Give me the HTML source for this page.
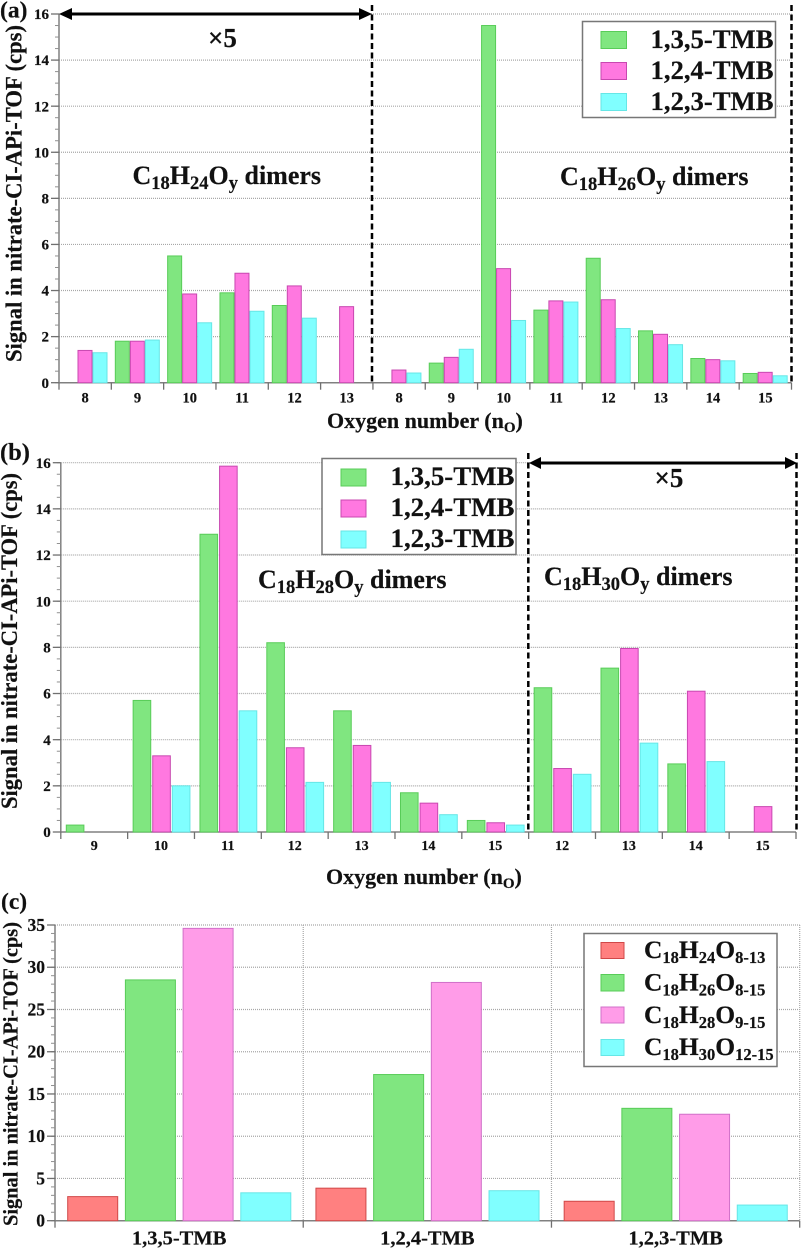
<!DOCTYPE html>
<html lang="en">
<head>
<meta charset="utf-8">
<title>Dimer signal charts</title>
<style>
html,body{margin:0;padding:0;background:#fff;}
svg{display:block;filter:blur(0.35px);}
text{font-family:"Liberation Serif",serif;font-weight:bold;fill:#111;stroke:#111;stroke-width:0.2;}
</style>
</head>
<body>
<svg id="fig" xmlns="http://www.w3.org/2000/svg" width="808" height="1255" viewBox="0 0 808 1255">
  <g id="marks"></g>

  <text x="0" y="17.5" font-size="23.5">(a)</text>
  <text x="0" y="460" font-size="24.5">(b)</text>
  <text x="1" y="909" font-size="23.5">(c)</text>

  <text transform="translate(21.7,362) rotate(-90)" font-size="23.5" textLength="337" lengthAdjust="spacingAndGlyphs">Signal in nitrate-CI-APi-TOF (cps)</text>
  <text transform="translate(17,809) rotate(-90)" font-size="23.5" textLength="336" lengthAdjust="spacingAndGlyphs">Signal in nitrate-CI-APi-TOF (cps)</text>
  <text transform="translate(17.3,1226) rotate(-90)" font-size="21" textLength="304" lengthAdjust="spacingAndGlyphs">Signal in nitrate-CI-APi-TOF (cps)</text>

  <text x="327" y="428" font-size="22">Oxygen number (n<tspan dy="4" font-size="15">O</tspan><tspan dy="-4">)</tspan></text>
  <text x="326" y="884" font-size="22">Oxygen number (n<tspan dy="4" font-size="15">O</tspan><tspan dy="-4">)</tspan></text>

  <text x="132.5" y="184" font-size="26">C<tspan dy="5" font-size="18.5">18</tspan><tspan dy="-5">H</tspan><tspan dy="5" font-size="18.5">24</tspan><tspan dy="-5">O</tspan><tspan dy="5" font-size="18.5">y</tspan><tspan dy="-5"> dimers</tspan></text>
  <text x="560" y="185" font-size="26">C<tspan dy="5" font-size="18.5">18</tspan><tspan dy="-5">H</tspan><tspan dy="5" font-size="18.5">26</tspan><tspan dy="-5">O</tspan><tspan dy="5" font-size="18.5">y</tspan><tspan dy="-5"> dimers</tspan></text>
  <text x="258" y="588" font-size="26">C<tspan dy="5" font-size="18.5">18</tspan><tspan dy="-5">H</tspan><tspan dy="5" font-size="18.5">28</tspan><tspan dy="-5">O</tspan><tspan dy="5" font-size="18.5">y</tspan><tspan dy="-5"> dimers</tspan></text>
  <text x="544" y="585" font-size="26">C<tspan dy="5" font-size="18.5">18</tspan><tspan dy="-5">H</tspan><tspan dy="5" font-size="18.5">30</tspan><tspan dy="-5">O</tspan><tspan dy="5" font-size="18.5">y</tspan><tspan dy="-5"> dimers</tspan></text>

  <text x="222.5" y="47" font-size="27" text-anchor="middle">×5</text>
  <text x="669" y="487" font-size="27" text-anchor="middle">×5</text>

  <g>
    <line x1="372" y1="5" x2="372" y2="383" stroke="#000" stroke-width="2.5" stroke-dasharray="6 3.5"/>
    <line x1="791.5" y1="5" x2="791.5" y2="383" stroke="#000" stroke-width="2.5" stroke-dasharray="6 3.5"/>
    <line x1="68" y1="14" x2="362" y2="14" stroke="#000" stroke-width="3"/>
    <polygon points="59,14 72,8 72,20" fill="#000"/>
    <polygon points="372,14 359,8 359,20" fill="#000"/>
  </g>
  <g>
    <line x1="528.3" y1="453" x2="528.3" y2="832" stroke="#000" stroke-width="2.5" stroke-dasharray="6 3.5"/>
    <line x1="796.5" y1="453" x2="796.5" y2="832" stroke="#000" stroke-width="2.5" stroke-dasharray="6 3.5"/>
    <line x1="538" y1="463" x2="788" y2="463" stroke="#000" stroke-width="3"/>
    <polygon points="529,463 541,457 541,469" fill="#000"/>
    <polygon points="797,463 785,457 785,469" fill="#000"/>
  </g>

  <g>
    <rect x="582.5" y="21.5" width="193" height="96" fill="#fff" stroke="#777" stroke-width="1.5"/>
    <rect x="601" y="31.5" width="25.5" height="17" fill="#80e680" stroke="#58cc58"/>
    <rect x="601" y="62.5" width="25.5" height="17" fill="#ff78e0" stroke="#c848b0"/>
    <rect x="601" y="93.5" width="25.5" height="17" fill="#80ffff" stroke="#66e6e6"/>
    <text x="650.5" y="48" font-size="26" textLength="123" lengthAdjust="spacingAndGlyphs">1,3,5-TMB</text>
    <text x="650.5" y="79" font-size="26" textLength="123" lengthAdjust="spacingAndGlyphs">1,2,4-TMB</text>
    <text x="650.5" y="110" font-size="26" textLength="123" lengthAdjust="spacingAndGlyphs">1,2,3-TMB</text>
  </g>

  <g>
    <rect x="322" y="458.5" width="194" height="96" fill="#fff" stroke="#777" stroke-width="1.5"/>
    <rect x="341" y="469" width="25" height="17" fill="#80e680" stroke="#58cc58"/>
    <rect x="341" y="500" width="25" height="17" fill="#ff78e0" stroke="#c848b0"/>
    <rect x="341" y="531" width="25" height="17" fill="#80ffff" stroke="#66e6e6"/>
    <text x="390.5" y="485" font-size="26" textLength="124" lengthAdjust="spacingAndGlyphs">1,3,5-TMB</text>
    <text x="390.5" y="516" font-size="26" textLength="124" lengthAdjust="spacingAndGlyphs">1,2,4-TMB</text>
    <text x="390.5" y="547" font-size="26" textLength="124" lengthAdjust="spacingAndGlyphs">1,2,3-TMB</text>
  </g>

  <g>
    <rect x="584" y="933.5" width="193" height="133" fill="#fff" stroke="#777" stroke-width="1.5"/>
    <rect x="601" y="942.5" width="23" height="16" fill="#ff8080" stroke="#d04848"/>
    <rect x="601" y="974.5" width="23" height="16.5" fill="#80e680" stroke="#58cc58"/>
    <rect x="601" y="1007" width="23" height="16" fill="#ff9ce8" stroke="#d070c8"/>
    <rect x="601" y="1039.5" width="23" height="16" fill="#80ffff" stroke="#66e6e6"/>
    <text x="644" y="958" font-size="25.5">C<tspan dy="5" font-size="16.5">18</tspan><tspan dy="-5">H</tspan><tspan dy="5" font-size="16.5">24</tspan><tspan dy="-5">O</tspan><tspan dy="5" font-size="16.5">8-13</tspan></text>
    <text x="644" y="990.5" font-size="25.5">C<tspan dy="5" font-size="16.5">18</tspan><tspan dy="-5">H</tspan><tspan dy="5" font-size="16.5">26</tspan><tspan dy="-5">O</tspan><tspan dy="5" font-size="16.5">8-15</tspan></text>
    <text x="644" y="1023" font-size="25.5">C<tspan dy="5" font-size="16.5">18</tspan><tspan dy="-5">H</tspan><tspan dy="5" font-size="16.5">28</tspan><tspan dy="-5">O</tspan><tspan dy="5" font-size="16.5">9-15</tspan></text>
    <text x="644" y="1055" font-size="25.5">C<tspan dy="5" font-size="16.5">18</tspan><tspan dy="-5">H</tspan><tspan dy="5" font-size="16.5">30</tspan><tspan dy="-5">O</tspan><tspan dy="5" font-size="16.5">12-15</tspan></text>
  </g>
</svg>

<script>
// Panel (a)
const panelACategories = ['8','9','10','11','12','13','8','9','10','11','12','13','14','15'];
const panelA135 = [0,1.8,5.5,3.9,3.35,0,0,0.85,15.5,3.15,5.4,2.25,1.05,0.4];
const panelA124 = [1.4,1.8,3.85,4.75,4.2,3.3,0.55,1.1,4.95,3.55,3.6,2.1,1.0,0.45];
const panelA123 = [1.3,1.85,2.6,3.1,2.8,0,0.42,1.45,2.7,3.5,2.35,1.65,0.95,0.3];
const panelATicks = [0,2,4,6,8,10,12,14,16];

// Panel (b)
const panelBCategories = ['9','10','11','12','13','14','15','12','13','14','15'];
const panelB135 = [0.3,5.7,12.9,8.2,5.25,1.7,0.5,6.25,7.1,2.95,0];
const panelB124 = [0,3.3,15.85,3.65,3.75,1.25,0.4,2.75,7.95,6.1,1.1];
const panelB123 = [0,2.0,5.25,2.15,2.15,0.75,0.3,2.5,3.85,3.05,0];
const panelBTicks = [0,2,4,6,8,10,12,14,16];

// Panel (c)
const panelCCategories = ['1,3,5-TMB','1,2,4-TMB','1,2,3-TMB'];
const panelCH24 = [2.85,3.85,2.3];
const panelCH26 = [28.5,17.3,13.3];
const panelCH28 = [34.6,28.2,12.6];
const panelCH30 = [3.3,3.55,1.85];
const panelCTicks = [0,5,10,15,20,25,30,35];

const NS = 'http://www.w3.org/2000/svg';
const root = document.getElementById('marks');
const GREEN = ['#80e680','#58cc58'];
const MAGENTA = ['#ff78e0','#c848b0'];
const CYAN = ['#80ffff','#66e6e6'];
const PINK = ['#ff9ce8','#d070c8'];
const RED = ['#ff8080','#d04848'];

function make(tag, attrs, parent) {
  const el = document.createElementNS(NS, tag);
  for (const k in attrs) el.setAttribute(k, attrs[k]);
  parent.appendChild(el);
  return el;
}

function drawPanel(cfg) {
  const g = make('g', {}, root);
  
  
  const yScale = v => cfg.y0 + (cfg.yTop - cfg.y0) * v / cfg.yMax;
  const step = (cfg.x1 - cfg.x0) / cfg.categories.length;
  const xTick = i => cfg.x0 + step * i;

  // gridlines
  cfg.ticks.forEach(t => {
    if (t === 0) return;
    const grid = make('line', {x1: cfg.x0, x2: cfg.x1, y1: yScale(t), y2: yScale(t), stroke: '#a8a8a8', 'stroke-width': 1.2, 'stroke-dasharray': '1 1'}, g);
    
    
  });
  if (cfg.verticalGrid) {
    cfg.categories.forEach((c, i) => {
      const vg = make('line', {x1: xTick(i + 1), x2: xTick(i + 1), y1: cfg.yTop, y2: cfg.y0, stroke: '#a8a8a8', 'stroke-width': 1.2, 'stroke-dasharray': '1 1'}, g);
      
      
    });
  }

  // x axis sits under the bars so zero-height bars show as a coloured line
  const xAxis = make('line', {x1: cfg.x0, x2: cfg.x1, y1: cfg.y0, y2: cfg.y0, stroke: '#808080', 'stroke-width': 1.5}, g);
  
  

  // bars
  cfg.series.forEach((s, si) => {
    s.values.forEach((v, i) => {
      const x = xTick(i) + cfg.offset + cfg.barStep * si;
      const top = yScale(v);
      const bar = make('rect', {x: x, y: top, width: cfg.barWidth, height: cfg.y0 - top, fill: s.colors[0], stroke: s.colors[1], 'stroke-width': 1}, g);
      
      
    });
  });

  // y axis, minor ticks, major ticks and labels
  const yAxis = make('line', {x1: cfg.x0, x2: cfg.x0, y1: cfg.yTop, y2: cfg.y0, stroke: '#808080', 'stroke-width': 1.5}, g);
  
  
  for (let m = 0; m <= cfg.yMax + 1e-6; m += cfg.minor) {
    const mt = make('line', {x1: cfg.x0 - 4, x2: cfg.x0, y1: yScale(m), y2: yScale(m), stroke: '#909090', 'stroke-width': 1}, g);
    
    
  }
  cfg.ticks.forEach(t => {
    const tk = make('line', {x1: cfg.x0 - 8, x2: cfg.x0, y1: yScale(t), y2: yScale(t), stroke: '#707070', 'stroke-width': 1.3}, g);
    
    
    const lb = make('text', {x: cfg.x0 - 10, y: yScale(t) + cfg.tickSize * 0.34, 'text-anchor': 'end', 'font-size': cfg.tickSize}, g);
    lb.textContent = t;
    
    
  });

  // x ticks and labels
  for (let i = 0; i <= cfg.categories.length; i++) {
    const xt = make('line', {x1: xTick(i), x2: xTick(i), y1: cfg.y0, y2: cfg.y0 + 7, stroke: '#707070', 'stroke-width': 1.3}, g);
    
    
  }
  cfg.categories.forEach((c, i) => {
    const lb = make('text', {x: xTick(i) + step / 2, y: cfg.y0 + cfg.xLabelOffset, 'text-anchor': 'middle', 'font-size': cfg.xTickSize}, g);
    lb.textContent = c;
    
    
  });
}

drawPanel({
  name: 'panel-a-chart', categories: panelACategories, ticks: panelATicks,
  series: [
    {key: '135-tmb', values: panelA135, colors: GREEN},
    {key: '124-tmb', values: panelA124, colors: MAGENTA},
    {key: '123-tmb', values: panelA123, colors: CYAN}
  ],
  x0: 59, x1: 791.5, y0: 382.7, yTop: 14, yMax: 16, minor: 0.5,
  offset: 4, barStep: 15, barWidth: 14, tickSize: 15, xTickSize: 14.5, xLabelOffset: 20
});

drawPanel({
  name: 'panel-b-chart', categories: panelBCategories, ticks: panelBTicks,
  series: [
    {key: '135-tmb', values: panelB135, colors: GREEN},
    {key: '124-tmb', values: panelB124, colors: MAGENTA},
    {key: '123-tmb', values: panelB123, colors: CYAN}
  ],
  x0: 60.8, x1: 796, y0: 832, yTop: 462.7, yMax: 16, minor: 0.5,
  offset: 5.5, barStep: 19.6, barWidth: 17.6, tickSize: 15, xTickSize: 14, xLabelOffset: 18
});

drawPanel({
  name: 'panel-c-chart', categories: panelCCategories, ticks: panelCTicks, verticalGrid: true,
  series: [
    {key: 'c18h24', values: panelCH24, colors: RED},
    {key: 'c18h26', values: panelCH26, colors: GREEN},
    {key: 'c18h28', values: panelCH28, colors: PINK},
    {key: 'c18h30', values: panelCH30, colors: CYAN}
  ],
  x0: 55, x1: 799.7, y0: 1220.7, yTop: 925, yMax: 35, minor: 1,
  offset: 12.7, barStep: 57.7, barWidth: 50, tickSize: 17.5, xTickSize: 20.5, xLabelOffset: 24
});
</script>
</body>
</html>
